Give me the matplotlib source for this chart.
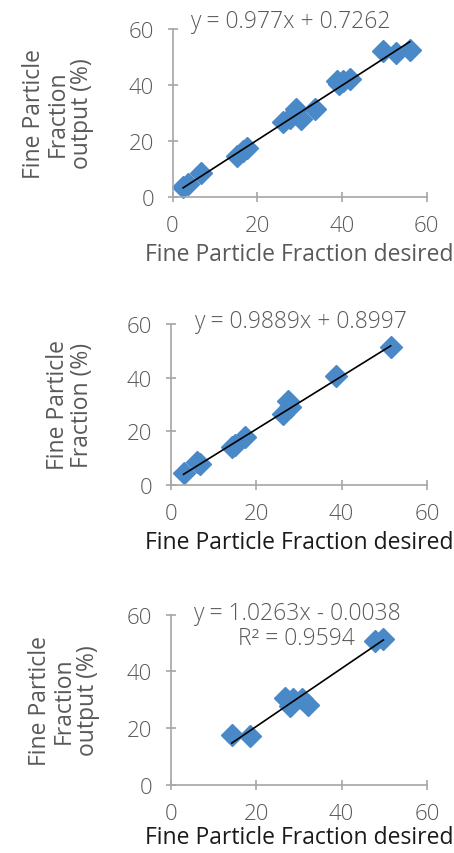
import numpy as np
from matplotlib import pyplot as plt

# panel 1
x1 = [2.5, 3.7, 6.8, 15.1, 16.7, 17.5, 26.1, 27.7, 29.2, 30.4, 33.6, 38.7, 39.2, 40.3, 41.8, 49.7, 52.8, 56.0]
y1 = [3.4, 4.5, 8.5, 14.6, 16.4, 17.6, 26.6, 28.3, 31.3, 27.8, 31.3, 41.4, 40.2, 41.4, 42.0, 52.1, 51.5, 52.5]
# panel 2
x2 = [3.0, 6.1, 6.9, 14.3, 15.1, 17.4, 26.4, 27.9, 27.5, 38.8, 51.5]
y2 = [4.2, 8.6, 7.7, 14.0, 14.8, 17.7, 26.4, 28.9, 31.3, 40.7, 51.3]
# panel 3
x3 = [14.3, 18.6, 26.8, 27.9, 28.7, 30.7, 32.2, 47.8, 49.8]
y3 = [17.6, 17.2, 30.7, 27.8, 30.1, 30.1, 28.2, 50.8, 51.3]

fits = [(0.977, 0.7262), (0.9889, 0.8997), (1.0263, -0.0038)]
eq_text = ['y = 0.977x + 0.7262', 'y = 0.9889x + 0.8997', 'y = 1.0263x - 0.0038\nR² = 0.9594']
ylabels = ['Fine Particle\nFraction\noutput (%)', 'Fine Particle\nFraction (%)', 'Fine Particle\nFraction\noutput (%)']
xlabel = 'Fine Particle Fraction desired'
xticks = [0, 20, 40, 60]
yticks = [0, 20, 40, 60]

plt.rcParams['font.family'] = ['Open Sans', 'DejaVu Sans']
plt.rcParams['font.weight'] = 'light'
plt.rcParams['font.size'] = 16.5

fig = plt.figure(figsize=(4.54, 8.54), dpi=100)
rects = [
    [0.380, 0.7685, 0.560, 0.1964],
    [0.376, 0.4313, 0.5645, 0.1882],
    [0.376, 0.0800, 0.5645, 0.1990],
]
eq_pos = [(27.7, 62.8), (30.4, 61.0), (29.5, 56.3)]
xlab_col = ['#595959', '#1a1a1a', '#1a1a1a']
ylab_x = [-0.31, -0.30, -0.275]
xlab_pad = [4, 4, 1]

gray = '#595959'
spine = '#a6a6a6'
data = [(x1, y1), (x2, y2), (x3, y3)]
for i, (xs, ys) in enumerate(data):
    ax = fig.add_axes(rects[i])
    ax.plot(xs, ys, linestyle='', marker='D', markersize=11, color='#4A89C8', zorder=2, clip_on=False)
    m, b = fits[i]
    xl = np.array([min(xs), max(xs)])
    ax.plot(xl, m*xl + b, color='black', linewidth=1.2, zorder=3)
    ax.set_xlim(0, 60)
    ax.set_ylim(0, 60)
    ax.set_xticks(xticks)
    ax.set_yticks(yticks)
    for s in ['top', 'right']:
        ax.spines[s].set_visible(False)
    for s in ['left', 'bottom']:
        ax.spines[s].set_color(spine)
        ax.spines[s].set_linewidth(1.2)
    ax.tick_params(colors=spine, labelcolor=gray, direction='inout', length=6.5,
                   width=1.2, labelsize=16, pad=10)
    ax.set_xlabel(xlabel, color=xlab_col[i], labelpad=xlab_pad[i])
    ax.set_ylabel(ylabels[i], color=gray, linespacing=1.0)
    ax.yaxis.set_label_coords(ylab_x[i], 0.5)
    ax.text(eq_pos[i][0], eq_pos[i][1], eq_text[i], ha='center', va='center',
            color=gray, linespacing=1.05, clip_on=False)

fig.savefig('out.png', dpi=100)
